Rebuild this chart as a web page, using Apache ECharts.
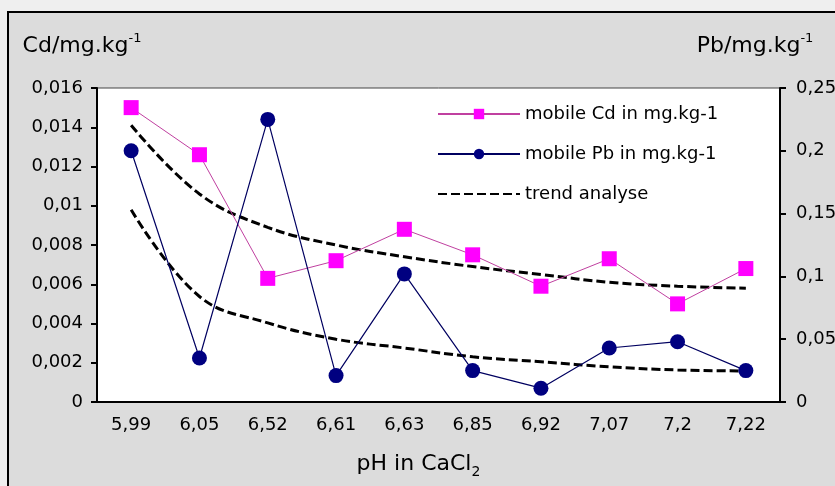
<!DOCTYPE html>
<html>
<head>
<meta charset="utf-8">
<script src="https://cdn.jsdelivr.net/npm/echarts@6/dist/echarts.min.js"></script>
<style>
html,body{margin:0;padding:0;background:#efefef;}
#c{width:835px;height:486px;}
</style>
</head>
<body>
<div id="c"></div>
<script>
var categories = ['5,99','6,05','6,52','6,61','6,63','6,85','6,92','7,07','7,2','7,22'];
var cdValues = [0.0150, 0.0126, 0.0063, 0.0072, 0.0088, 0.0075, 0.0059, 0.0073, 0.0050, 0.0068];
var pbValues = [0.200, 0.035, 0.225, 0.021, 0.102, 0.025, 0.011, 0.043, 0.048, 0.025];
var cdTrend = [0.0141, 0.0106, 0.0089, 0.0080, 0.0074, 0.0069, 0.0065, 0.0061, 0.0059, 0.0058];
var pbTrend = [0.153, 0.084, 0.063, 0.050, 0.043, 0.036, 0.032, 0.028, 0.0255, 0.0247];
var leftTicks = {min: 0, max: 0.016, interval: 0.002};
var rightTicks = {min: 0, max: 0.25, interval: 0.05};
var seriesNames = ['mobile Cd in mg.kg-1', 'mobile Pb in mg.kg-1', 'trend analyse'];

function fmt(v){ return String(+v.toFixed(4)).replace('.', ','); }

var chart = echarts.init(document.getElementById('c'));
var FONT = 'DejaVu Sans';
var nameRich = {
  a: {fontFamily: FONT, fontSize: 22, lineHeight: 28, color: '#000'},
  s: {fontFamily: FONT, fontSize: 13, lineHeight: 13, verticalAlign: 'top', color: '#000'}
};
chart.setOption({
  animation: false,
  backgroundColor: '#efefef',
  textStyle: {fontFamily: FONT, color: '#000'},
  graphic: [{
    type: 'rect', z: -100, silent: true,
    shape: {x: 8, y: 12, width: 900, height: 600},
    style: {fill: '#dcdcdc', stroke: '#000', lineWidth: 2}
  }],
  grid: {left: 97, right: 55, top: 88, bottom: 84, containLabel: false, outerBoundsMode: 'none',
         show: true, backgroundColor: '#fff', borderColor: '#444', borderWidth: 1},
  legend: {
    orient: 'vertical', left: 432, top: 100, itemGap: 22,
    itemWidth: 82, itemHeight: 13,
    textStyle: {fontFamily: FONT, fontSize: 18, color: '#000'},
    data: [
      {name: seriesNames[0]},
      {name: seriesNames[1]},
      {name: seriesNames[2], itemStyle: {opacity: 0}}
    ]
  },
  xAxis: {
    type: 'category', data: categories, boundaryGap: true,
    name: '{a|pH in CaCl}{b|2}', nameLocation: 'middle', nameGap: 47,
    nameTextStyle: {padding: [0, 40, 0, 0], rich: {a: {fontFamily: FONT, fontSize: 22, lineHeight: 30, color: '#000'}, b: {fontFamily: FONT, fontSize: 14, lineHeight: 14, verticalAlign: 'bottom', color: '#000'}}},
    axisLine: {lineStyle: {color: '#000', width: 2}},
    axisTick: {inside: true, length: 8, lineStyle: {color: '#000', width: 2}},
    axisLabel: {fontFamily: FONT, fontSize: 18, color: '#000', margin: 14}
  },
  yAxis: [{
    type: 'value', min: leftTicks.min, max: leftTicks.max, interval: leftTicks.interval,
    name: '{a|Cd/mg.kg}{s|-1}', nameLocation: 'end', nameGap: 28,
    nameTextStyle: {padding: [0, 30, 0, 0], rich: nameRich},
    axisLine: {show: true, lineStyle: {color: '#000', width: 2}},
    axisTick: {show: true, length: 6, lineStyle: {color: '#000', width: 2}},
    splitLine: {show: false},
    axisLabel: {fontFamily: FONT, fontSize: 18, color: '#000', margin: 14, formatter: fmt}
  }, {
    type: 'value', min: rightTicks.min, max: rightTicks.max, interval: rightTicks.interval,
    name: '{a|Pb/mg.kg}{s|-1}', nameLocation: 'end', nameGap: 28,
    nameTextStyle: {padding: [0, 50, 0, 0], rich: nameRich},
    axisLine: {show: true, lineStyle: {color: '#000', width: 2}},
    axisTick: {show: true, length: 6, lineStyle: {color: '#000', width: 2}},
    splitLine: {show: false},
    axisLabel: {fontFamily: FONT, fontSize: 18, color: '#000', margin: 16, formatter: fmt}
  }],
  series: [{
    name: seriesNames[0], type: 'line', yAxisIndex: 0, data: cdValues,
    symbol: 'rect', symbolSize: 15,
    itemStyle: {color: '#ff00ff'},
    lineStyle: {color: '#c040a0', width: 1}, z: 5
  }, {
    name: seriesNames[1], type: 'line', yAxisIndex: 1, data: pbValues,
    symbol: 'circle', symbolSize: 15,
    itemStyle: {color: '#000080'},
    lineStyle: {color: '#000060', width: 1.2}, z: 5
  }, {
    name: seriesNames[2], type: 'line', yAxisIndex: 0, data: cdTrend,
    symbol: 'none', smooth: 0.4,
    itemStyle: {color: '#000'},
    lineStyle: {color: '#000', width: 3, type: [9, 4]}, z: 3
  }, {
    name: seriesNames[2], type: 'line', yAxisIndex: 1, data: pbTrend,
    symbol: 'none', smooth: 0.4,
    itemStyle: {color: '#000'},
    lineStyle: {color: '#000', width: 3, type: [9, 4]}, z: 3
  }]
});
</script>
</body>
</html>
